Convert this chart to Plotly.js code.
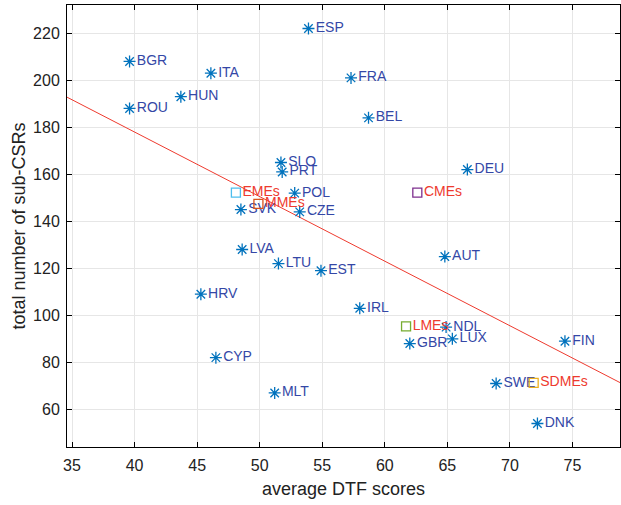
<!DOCTYPE html>
<html>
<head>
<meta charset="utf-8">
<script src="https://cdn.plot.ly/plotly-3.0.1.min.js"></script>
<style>html,body{margin:0;padding:0;background:#fff;}#chart{width:621px;height:505px;}</style>
</head>
<body>
<div id="chart"></div>
<script>
// Countries
const countries = ["ESP","BGR","ITA","HUN","ROU","FRA","BEL","SLO","PRT","DEU","POL","SVK","CZE","LVA","AUT","LTU","EST","HRV","IRL","NDL","LUX","GBR","FIN","CYP","SWE","MLT","DNK"];
const dtfScores = [53.9,39.6,46.1,43.7,39.6,57.3,58.7,51.7,51.8,66.6,52.8,48.5,53.2,48.6,64.8,51.5,54.9,45.3,58.0,64.9,65.4,62.0,74.4,46.5,68.9,51.2,72.2];
const subCSRs   = [222,208,203,193,188,201,184,165,161,162,152,145,144,128,125,122,119,109,103,95,90,88,89,82,71,67,54];

// Group averages
const groups = ["EMEs","MMEs","CMEs","LMEs","SDMEs"];
const groupDtf = [48.1,49.9,62.6,61.7,71.9];
const groupCSRs = [152.2,147.4,152.2,95.3,71.3];
const groupColors = ["#4DBEEE","#D95319","#7E2F8E","#77AC30","#EDB120"];

// Fitted line endpoints
const fitX = [34.6,78.8];
const fitY = [192.8,71.4];

const FONT = "Liberation Sans, Arial, sans-serif";

const traces = [
  {x: fitX, y: fitY, mode: "lines", line: {color: "#EE3A2E", width: 1}, hoverinfo: "skip", showlegend: false},
  {x: dtfScores, y: subCSRs, text: countries, mode: "markers+text", textposition: "middle right",
   textfont: {family: FONT, size: 14, color: "#3447A6"},
   marker: {symbol: "asterisk-open", size: 10, line: {color: "#0072BD", width: 1.3}, color: "#0072BD"}, showlegend: false},
  {x: groupDtf, y: groupCSRs, text: groups, mode: "markers+text", textposition: "middle right",
   textfont: {family: FONT, size: 14, color: "#EE3A2E"},
   marker: {symbol: "square-open", size: 9, color: groupColors, line: {color: groupColors, width: 1.3}}, showlegend: false}
];

const axisCommon = {
  showgrid: true, gridcolor: "#E6E6E6", gridwidth: 1,
  zeroline: false, showline: true, linecolor: "#000", linewidth: 1,
  ticks: "inside", ticklen: 5, tickcolor: "#000", mirror: "ticks",
  tickfont: {family: FONT, size: 16, color: "#222"}
};

const layout = {
  width: 621, height: 505,
  margin: {l: 67, r: 1, t: 5, b: 58},
  paper_bgcolor: "#fff", plot_bgcolor: "#fff",
  xaxis: Object.assign({}, axisCommon, {range: [34.6, 78.8], tickvals: [35,40,45,50,55,60,65,70,75],
    ticklabelstandoff: 4,
    title: {text: "average DTF scores", font: {family: FONT, size: 18, color: "#222"}, standoff: 9}}),
  yaxis: Object.assign({}, axisCommon, {range: [44, 232], tickvals: [60,80,100,120,140,160,180,200,220],
    ticklabelstandoff: 3,
    title: {text: "total number of sub-CSRs", font: {family: FONT, size: 18, color: "#222"}, standoff: 2}})
};

Plotly.newPlot("chart", traces, layout, {displayModeBar: false, staticPlot: true});
</script>
</body>
</html>
